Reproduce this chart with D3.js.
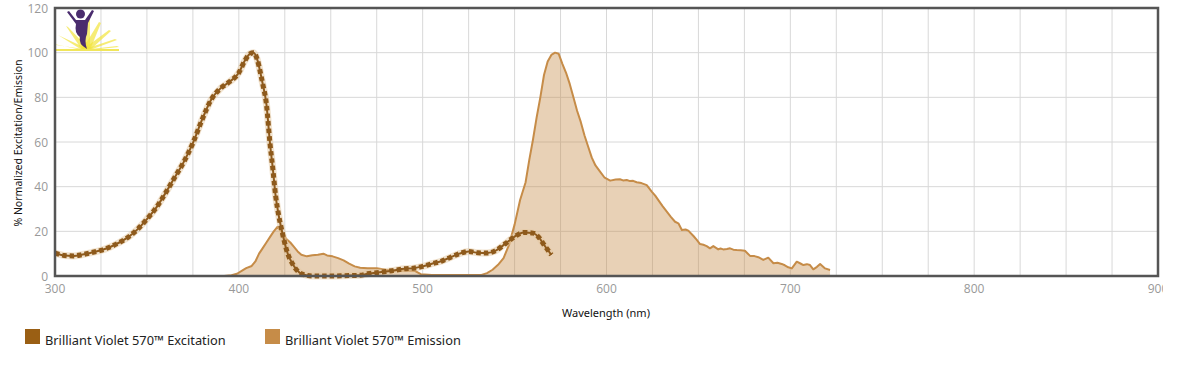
<!DOCTYPE html>
<html><head><meta charset="utf-8">
<script src="https://cdn.jsdelivr.net/npm/d3@7"></script>
<style>body{margin:0;background:#fff}svg{display:block}</style>
</head><body><div id="chart"></div>
<script>
const excWl = [300,305,310,315,320,325,330,335,340,345,350,355,360,365,370,375,380,385,390,395,400,403,406,408,410,412,413,415,417,418.5,420,421.5,423.5,426,429.5,433,437,440,450,460,466,470,475,480,485,490,495,500,505,510,515,520,525,530,535,540,545,550,555,560,563,566,570];
const excVal = [10.3,9.2,9,9.6,10.5,11.5,13,15,17.5,21,25.5,30.5,37,44,51,59.5,70,79,84,87,91,96,99.5,100,97,90,86,77,59,48,36,28,20,11.5,5,1.5,0.3,0,0,0.2,0.3,1,1.5,2,2.6,3.2,3.5,4.3,5.5,6.6,8.3,10,11,10.4,10.3,11.5,14.5,17.6,19.5,19.2,17.5,14,9.5];
const emWl = [392,396,399,402,404,407,409,411,413,415,417,419,421,422.5,424,426,428,430,432,434,437,440,443,446,448,451,454,457,460,463,466,470,475,480,485,490,496,499,505,520,532,535,538,541,544,547,550,553,556,558,560,562,564,566,568,570,572,574,576,578,580,582,584,586,588,590,592,594,596.5,599,602,605,607.3,609,611,612.8,614.5,616.4,619,621.9,624.6,626.5,628.2,630.5,632.8,635,637.3,639.1,641,643,644.5,647.3,649,650.9,652.7,654.5,656.3,658.1,660.8,662,663.5,665.5,667.2,669,670.8,673,675.3,678.1,680.5,682.6,685.3,688,690.8,693,695.3,697,698.9,700.8,703.5,705.5,707.1,709,710.7,712.5,714.5,716.2,718.9,721.6];
const emVal = [0,0.3,1,2.5,3.5,4.5,6.5,10,12.5,15,17.5,20,22,20.5,18.5,16.5,15,13,11,9.5,8.8,9.3,9.5,10,9.2,8.8,8,7,5.5,4.3,3.7,3.5,3.5,2.8,2.5,2.3,2.2,0.8,0.5,0.5,0.5,1.3,2.8,5,8,14,23,34,42,52,61,71,80,90,96,99,100,99.5,95,91,86,80,74,69,63,58,53,49.5,46.7,44,42.7,43.2,43.3,42.8,43,42.5,42.6,42,41.6,40.7,37.8,36,34,31.3,28.8,26.5,24.3,23.6,20.6,20.8,20.3,17.9,16.3,14.3,14,13.4,12.4,13.4,11.9,12.3,11.9,12.1,12.4,11.8,11.6,11.5,11.3,9,8.9,8.4,7.2,8.2,5.7,5.9,5.4,4.8,3.9,3.4,6.4,5.6,4.9,5.3,4.9,3,4.1,5.4,3.4,2.7];
const xTicks = [300,400,500,600,700,800,900];
const xGrid = d3.range(300, 901, 25);
const yTicks = [0,20,40,60,80,100,120];
const seriesNames = ["Brilliant Violet 570™ Excitation","Brilliant Violet 570™ Emission"];
const seriesColors = ["#9a5f14","#c68c48"];

const W = 1163, H = 375;
const m = {l:55, r:1158, t:8, b:276};
const svg = d3.select("#chart").append("svg").attr("width", W).attr("height", H);
const x = d3.scaleLinear().domain([300,900]).range([m.l, m.r]);
const y = d3.scaleLinear().domain([0,120]).range([m.b, m.t]);

// gridlines
svg.append("g").selectAll("line").data(xGrid).join("line")
  .attr("x1", d=>x(d)).attr("x2", d=>x(d)).attr("y1", m.t).attr("y2", m.b)
  .attr("stroke", "#d8d8d8").attr("stroke-width", 1);
svg.append("g").selectAll("line").data(yTicks).join("line")
  .attr("x1", m.l).attr("x2", m.r).attr("y1", d=>y(d)).attr("y2", d=>y(d))
  .attr("stroke", "#d8d8d8").attr("stroke-width", 1);

// logo
const logo = svg.append("g");
const cx0 = 86, cy0 = 50;
const rays = [[-31,-6],[-27,-15],[-19,-24],[-10,-30],[3,-32],[14,-28],[24,-20],[30,-11],[32,-4]];
rays.forEach(r => {
  logo.append("path").attr("d", `M${cx0-4},${cy0} L${cx0+r[0]-1},${cy0+r[1]} L${cx0+r[0]+1},${cy0+r[1]+1} L${cx0+4},${cy0} Z`).attr("fill", "#f2e43a").attr("opacity", 0.7);
});
logo.append("line").attr("x1", 55).attr("x2", 119).attr("y1", cy0).attr("y2", cy0).attr("stroke", "#f1e65a").attr("stroke-width", 2);
logo.append("circle").attr("cx", 80.5).attr("cy", 14).attr("r", 4.5).attr("fill", "#4a2c6e");
logo.append("path").attr("d", "M67,12 L69,11 L76,20 L85,20 L92,10 L94,11 L88,23 L87,34 Q84,40 87,49 Q78,44 80,37 Q74,33 76,24 Z").attr("fill", "#4a2c6e");

// emission area
const area = d3.area().x((d,i)=>x(emWl[i])).y0(y(0)).y1(d=>y(d)).curve(d3.curveLinear);
const eline = d3.line().x((d,i)=>x(emWl[i])).y(d=>y(d)).curve(d3.curveLinear);
svg.append("path").datum(emVal).attr("d", area).attr("fill", seriesColors[1]).attr("fill-opacity", 0.4);
svg.append("path").datum(emVal).attr("d", eline).attr("fill", "none").attr("stroke", seriesColors[1]).attr("stroke-width", 2).attr("stroke-linejoin","round");

// excitation line
const xline = d3.line().x((d,i)=>x(excWl[i])).y(d=>y(d)).curve(d3.curveMonotoneX);
svg.append("path").datum(excVal).attr("d", xline).attr("fill", "none").attr("stroke", "#e5c9a2").attr("stroke-width", 7).attr("stroke-opacity", 0.5);
svg.append("path").datum(excVal).attr("d", xline).attr("fill", "none").attr("stroke", "#8e5a1c").attr("stroke-width", 2);
svg.append("path").datum(excVal).attr("d", xline).attr("fill", "none").attr("stroke", "#8e5a1c").attr("stroke-width", 5).attr("stroke-dasharray", "4.5,3");

// frame
svg.append("rect").attr("x", m.l).attr("y", m.t).attr("width", m.r-m.l).attr("height", m.b-m.t)
  .attr("fill", "none").attr("stroke", "#555").attr("stroke-width", 2.5);

// axes labels
const font = "'Open Sans', sans-serif";
svg.append("g").selectAll("text").data(yTicks).join("text")
  .attr("x", 48).attr("y", d=>y(d)+4.5).attr("text-anchor","end")
  .attr("font-family", font).attr("font-size", 12).attr("fill", "#999").text(d=>d);
svg.append("g").selectAll("text").data(xTicks).join("text")
  .attr("x", d=>x(d)).attr("y", 293).attr("text-anchor","middle")
  .attr("font-family", font).attr("font-size", 12).attr("fill", "#999").text(d=>d);

svg.append("text").attr("transform", "translate(22,143) rotate(-90)").attr("text-anchor","middle")
  .attr("font-family", "'Noto Sans', sans-serif").attr("font-size", 10.5).attr("fill", "#111")
  .text("% Normalized Excitation/Emission");
svg.append("text").attr("x", 606).attr("y", 317).attr("text-anchor","middle")
  .attr("font-family", "'Noto Sans', sans-serif").attr("font-size", 11).attr("fill", "#111")
  .text("Wavelength (nm)");

// legend
const lx = [25, 265];
seriesNames.forEach((n,i) => {
  svg.append("rect").attr("x", lx[i]).attr("y", 329).attr("width", 15).attr("height", 15).attr("fill", seriesColors[i]);
  svg.append("text").attr("x", lx[i]+20).attr("y", 345).attr("font-family", "'Noto Sans', sans-serif")
    .attr("font-size", 12.8).attr("fill", "#222").text(n);
});
</script></body></html>
